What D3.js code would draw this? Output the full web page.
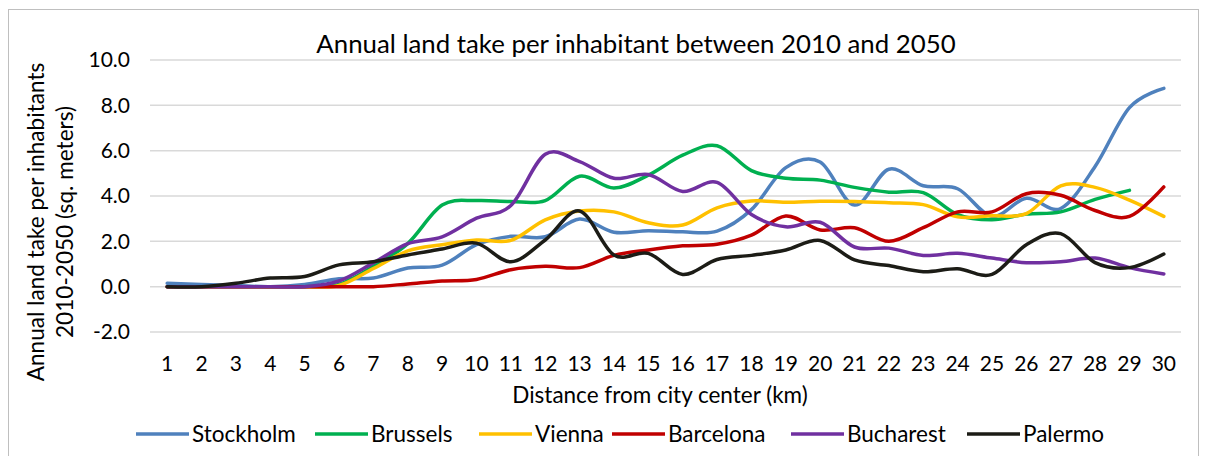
<!DOCTYPE html>
<html>
<head>
<meta charset="utf-8">
<script src="https://cdn.jsdelivr.net/npm/d3@7"></script>
<style>
  body { margin: 0; background: #fff; }
  svg { display: block; font-family: Lato, "Open Sans", sans-serif; }
</style>
</head>
<body>
<svg id="chart" width="1205" height="456"></svg>
<script>
const distances = d3.range(1, 31).map(String);
const yTicks = [-2, 0, 2, 4, 6, 8, 10];

const cities = ["Stockholm", "Brussels", "Vienna", "Barcelona", "Bucharest", "Palermo"];
const colors = ["#4F81BD", "#00B050", "#FFC000", "#C00000", "#7030A0", "#1C1C16"];

const stockholm = [0.15, 0.1, 0.05, 0.0, 0.1, 0.35, 0.38, 0.82, 0.95, 1.85, 2.22, 2.2, 2.98, 2.4, 2.47, 2.42, 2.45, 3.4, 5.25, 5.5, 3.6, 5.18, 4.45, 4.32, 3.1, 3.9, 3.45, 5.3, 7.9, 8.75];
const brussels = [0, 0, 0, 0, 0, 0.1, 0.9, 1.9, 3.6, 3.8, 3.76, 3.8, 4.87, 4.35, 4.92, 5.8, 6.22, 5.12, 4.78, 4.7, 4.38, 4.17, 4.15, 3.18, 2.95, 3.2, 3.3, 3.85, 4.25, null];
const vienna = [0, 0, 0, 0, 0, 0.05, 0.8, 1.58, 1.85, 2.06, 2.04, 2.95, 3.34, 3.3, 2.82, 2.72, 3.48, 3.78, 3.72, 3.77, 3.76, 3.7, 3.62, 3.08, 3.13, 3.22, 4.45, 4.38, 3.82, 3.1];
const barcelona = [0, 0, 0, 0, 0, 0, 0, 0.12, 0.25, 0.32, 0.75, 0.9, 0.84, 1.38, 1.62, 1.8, 1.87, 2.27, 3.12, 2.5, 2.6, 2.0, 2.6, 3.3, 3.3, 4.1, 4.03, 3.36, 3.1, 4.4];
const bucharest = [0, 0, 0, 0, 0, 0.25, 1.05, 1.9, 2.2, 3.02, 3.58, 5.84, 5.52, 4.78, 4.95, 4.2, 4.6, 3.18, 2.64, 2.84, 1.75, 1.7, 1.38, 1.47, 1.26, 1.06, 1.1, 1.26, 0.84, 0.56];
const palermo = [0, 0, 0.15, 0.38, 0.45, 0.96, 1.1, 1.4, 1.66, 1.92, 1.1, 2.06, 3.34, 1.4, 1.47, 0.54, 1.2, 1.38, 1.62, 2.04, 1.18, 0.93, 0.66, 0.79, 0.54, 1.85, 2.34, 1.06, 0.84, 1.44];

const series = [stockholm, brussels, vienna, barcelona, bucharest, palermo];

const svg = d3.select("#chart");
const margin = { left: 150, right: 1181, top: 60, bottom: 332 };

// Chart border
svg.append("rect")
  .attr("x", 8.5).attr("y", 9.5)
  .attr("width", 1190).attr("height", 470)
  .attr("fill", "#fff")
  .attr("stroke", "#BFBFBF")
  .attr("stroke-width", 1);

const x = d3.scaleBand()
  .domain(distances)
  .range([margin.left, margin.right]);

const y = d3.scaleLinear()
  .domain([-2, 10])
  .range([margin.bottom, margin.top]);

// Gridlines
svg.append("g")
  .selectAll("line")
  .data(yTicks)
  .join("line")
  .attr("x1", margin.left)
  .attr("x2", margin.right)
  .attr("y1", d => y(d))
  .attr("y2", d => y(d))
  .attr("stroke", "#D9D9D9")
  .attr("stroke-width", 1.5);

// Y axis labels (plain hyphen for negatives, like the original)
const fmt = d => d3.format(".1f")(d).replace("\u2212", "-");
const yAxis = svg.append("g")
  .attr("transform", `translate(${margin.left},0)`)
  .call(d3.axisLeft(y).tickValues(yTicks).tickFormat(fmt).tickSize(0).tickPadding(20));
yAxis.select(".domain").remove();
yAxis.selectAll("text")
  .attr("font-family", "Lato, sans-serif")
  .attr("font-size", 21)
  .attr("fill", "#000");

// X axis labels
const xAxis = svg.append("g")
  .attr("transform", `translate(0,${y(-2)})`)
  .call(d3.axisBottom(x).tickSize(0).tickPadding(24));
xAxis.select(".domain").remove();
xAxis.selectAll("text")
  .attr("font-family", "Lato, sans-serif")
  .attr("font-size", 21)
  .attr("fill", "#000");

// Lines
const line = d3.line()
  .defined(d => d != null)
  .x((d, i) => x(distances[i]) + x.bandwidth() / 2)
  .y(d => y(d))
  .curve(d3.curveCatmullRom.alpha(0));

svg.append("g")
  .selectAll("path")
  .data(series)
  .join("path")
  .attr("d", d => line(d))
  .attr("fill", "none")
  .attr("stroke", (d, i) => colors[i])
  .attr("stroke-width", 3.5)
  .attr("stroke-linecap", "round")
  .attr("stroke-linejoin", "round");

// Title
svg.append("text")
  .attr("x", 636).attr("y", 53)
  .attr("text-anchor", "middle")
  .attr("font-size", 25.8)
  .attr("fill", "#000")
  .text("Annual land take per inhabitant between 2010 and 2050");

// Y axis title
const yTitle = svg.append("text")
  .attr("transform", "translate(0,222) rotate(-90)")
  .attr("text-anchor", "middle")
  .attr("font-size", 22.6)
  .attr("fill", "#000");
yTitle.append("tspan").attr("x", 0).attr("y", 44).text("Annual land take per inhabitants");
yTitle.append("tspan").attr("x", 0).attr("y", 73).text("2010-2050 (sq. meters)");

// X axis title
svg.append("text")
  .attr("x", 660).attr("y", 403)
  .attr("text-anchor", "middle")
  .attr("font-size", 22.5)
  .attr("fill", "#000")
  .text("Distance from city center (km)");

// Legend
const legendX = [136, 315, 479, 612, 791, 967];
const legend = svg.append("g")
  .selectAll("g")
  .data(cities)
  .join("g")
  .attr("transform", (d, i) => `translate(${legendX[i]},434)`);
legend.append("line")
  .attr("x1", 0).attr("x2", 53)
  .attr("stroke", (d, i) => colors[i])
  .attr("stroke-width", 3.5);
legend.append("text")
  .attr("x", 56).attr("y", 8)
  .attr("font-size", 22.5)
  .attr("fill", "#000")
  .text(d => d);
</script>
</body>
</html>
